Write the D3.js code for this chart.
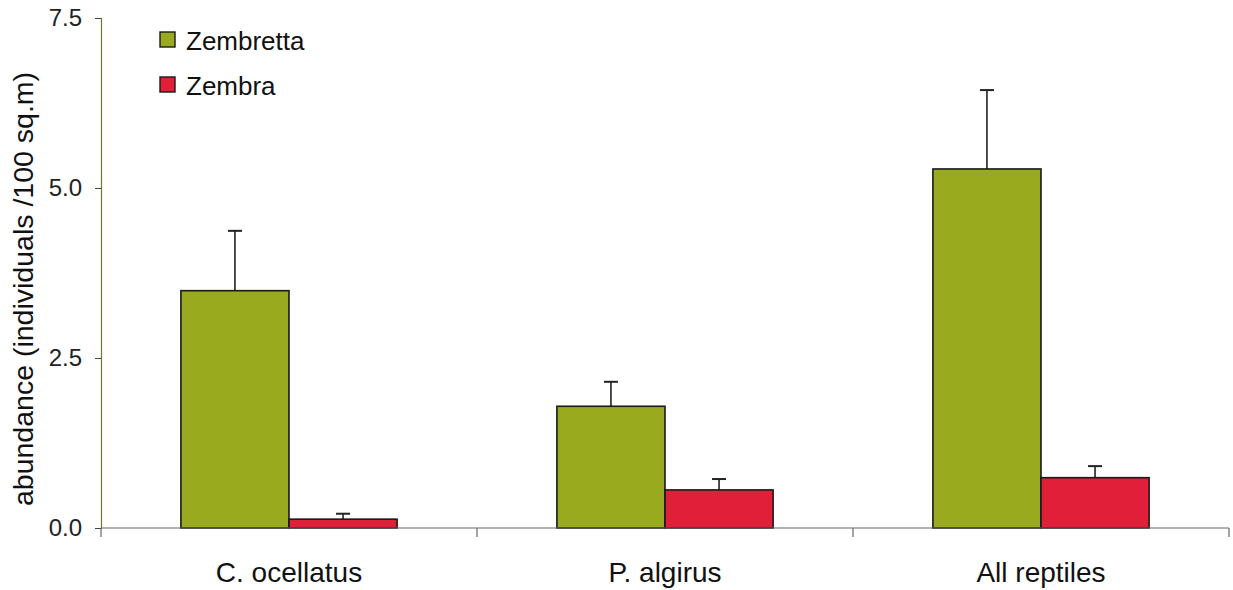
<!DOCTYPE html>
<html><head><meta charset="utf-8">
<script src="https://cdn.jsdelivr.net/npm/d3@7"></script>
<style>body{margin:0;background:#fff}</style>
</head><body>
<svg id="c" width="1233" height="590"></svg>
<script>
const categories = ["C. ocellatus", "P. algirus", "All reptiles"];
const seriesNames = ["Zembretta", "Zembra"];
const zembrettaMean = [3.49, 1.79, 5.28];
const zembrettaErr = [0.88, 0.36, 1.16];
const zembraMean = [0.13, 0.56, 0.74];
const zembraErr = [0.08, 0.16, 0.17];
const yTicks = [0, 2.5, 5.0, 7.5];
const colors = ["#9aaa1e", "#e11f38"];

(function () {
const FONT = "Liberation Sans, Arial, Helvetica, sans-serif";
const svg = d3.select("#c");
const mLeft = 101, mRight = 1229, mTop = 18, mBottom = 528;
const x = d3.scaleBand().domain(categories).range([mLeft, mRight]).padding(0);
const y = d3.scaleLinear().domain([0, 7.5]).range([mBottom, mTop]);
const barW = x.bandwidth() * 0.2875;

const data = [];
categories.forEach((c, i) => {
  data.push({c, s: 0, v: zembrettaMean[i], e: zembrettaErr[i]});
  data.push({c, s: 1, v: zembraMean[i], e: zembraErr[i]});
});
const bx = d => x(d.c) + x.bandwidth() / 2 + (d.s === 0 ? -barW : 0);

const eb = svg.append("g");
data.forEach(d => {
  const cx = bx(d) + barW / 2;
  eb.append("line").attr("x1", cx).attr("x2", cx).attr("y1", y(d.v)).attr("y2", y(d.v + d.e))
    .attr("stroke", "#222").attr("stroke-width", 1.6);
  eb.append("line").attr("x1", cx - 7).attr("x2", cx + 7).attr("y1", y(d.v + d.e)).attr("y2", y(d.v + d.e))
    .attr("stroke", "#222").attr("stroke-width", 2);
});

svg.append("g").selectAll("rect").data(data).join("rect")
  .attr("x", bx).attr("width", barW)
  .attr("y", d => y(d.v)).attr("height", d => y(0) - y(d.v))
  .attr("fill", d => colors[d.s]).attr("stroke", "#1a1a1a").attr("stroke-width", 1.6);

const ya = svg.append("g").attr("transform", `translate(${mLeft},0)`)
  .call(d3.axisLeft(y).tickValues(yTicks).tickFormat(d3.format(".1f")).tickSize(6).tickPadding(13));
ya.select(".domain").attr("stroke", "#6d7a2a").attr("stroke-width", 1.2);
ya.selectAll(".tick line").attr("stroke", "#444");
ya.selectAll("text").attr("font-family", FONT).attr("font-size", 24).attr("fill", "#222");

const xa = svg.append("g").attr("transform", `translate(0,${mBottom})`);
xa.append("line").attr("x1", mLeft).attr("x2", mRight).attr("stroke", "#666").attr("stroke-width", 1.2);
const bounds = [mLeft].concat(categories.map(c => x(c) + x.bandwidth()));
xa.selectAll(".bt").data(bounds).join("line").attr("class", "bt")
  .attr("x1", d => d).attr("x2", d => d).attr("y1", 0).attr("y2", 9).attr("stroke", "#666").attr("stroke-width", 1.2);
xa.selectAll("text").data(categories).join("text")
  .attr("x", d => x(d) + x.bandwidth() / 2).attr("y", 54)
  .attr("text-anchor", "middle").attr("font-family", FONT)
  .attr("font-size", 28).attr("fill", "#111").text(d => d);

svg.append("text").attr("transform", `translate(33,289) rotate(-90)`)
  .attr("text-anchor", "middle").attr("font-family", FONT)
  .attr("font-size", 28.5).attr("fill", "#111").text("abundance (individuals /100 sq.m)");

const lg = svg.append("g");
seriesNames.forEach((n, i) => {
  const yy = 32 + i * 45;
  lg.append("rect").attr("x", 160).attr("y", yy).attr("width", 15).attr("height", 15)
    .attr("fill", colors[i]).attr("stroke", "#1a1a1a").attr("stroke-width", 1.4);
  lg.append("text").attr("x", 186).attr("y", yy + 18).attr("font-family", FONT)
    .attr("font-size", 26).attr("fill", "#111").text(n);
});
})();
</script>
</body></html>
